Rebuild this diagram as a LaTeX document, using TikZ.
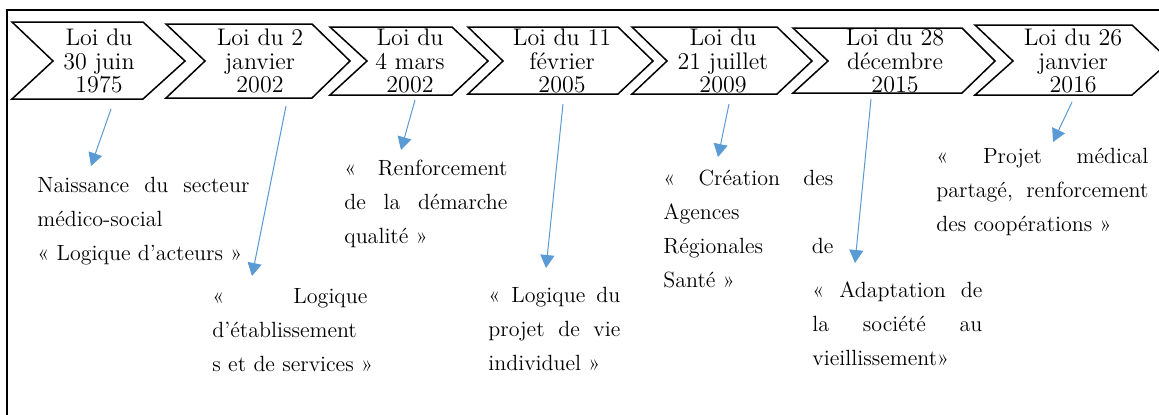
\documentclass[tikz,border=0pt]{standalone}
\usetikzlibrary{arrows.meta}
\definecolor{arrblue}{HTML}{5B9BD5}
\newcommand{\jl}[2]{\leavevmode\hbox to #1{#2}}
\begin{document}
\begin{tikzpicture}[x=0.5pt,y=-0.5pt,
  chev/.style={draw, line width=0.75pt, line join=miter},
  head/.style={align=center, font=\fontsize{12}{11.75}\selectfont, inner sep=0pt},
  body/.style={anchor=base west, inner sep=0pt, align=left, text width=130pt, font=\fontsize{11}{17}\selectfont},
  arr/.style={draw=arrblue, line width=0.5pt, -{Triangle[length=6.5pt,width=7pt]}}]
\clip (0,0) rectangle (1159,414);
\fill[white] (0,0) rectangle (1159,414);
\draw[line width=1pt] (7,430) -- (7,10) -- (1175,10);
% chevrons
\draw[chev] (12,22) -- (143,22) -- (185,61) -- (143,99) -- (12,99) -- (53,61) -- cycle;
\draw[chev] (166,24) -- (312,24) -- (350,61) -- (312,98) -- (166,98) -- (205,61) -- cycle;
\draw[chev] (330,27) -- (452,27) -- (488,61) -- (452,95) -- (330,95) -- (367,61) -- cycle;
\draw[chev] (468,27) -- (618,27) -- (653,61) -- (618,94) -- (468,94) -- (503,61) -- cycle;
\draw[chev] (632,27) -- (777,27) -- (812,61) -- (777,94) -- (632,94) -- (667,61) -- cycle;
\draw[chev] (793,28) -- (962,28) -- (995,61) -- (962,93) -- (793,93) -- (828,61) -- cycle;
\draw[chev] (975,25) -- (1132,25) -- (1170,61) -- (1132,95) -- (975,95) -- (1013,61) -- cycle;
% headings
\node[head] (h1) at (99,61) {Loi du\\30 juin\\1975};
\node[head] (h2) at (260,61) {Loi du 2\\janvier\\2002};
\node[head] (h3) at (410,61) {Loi du\\4 mars\\2002};
\node[head] (h4) at (562,61) {Loi du 11\\février\\2005};
\node[head] (h5) at (723,61) {Loi du\\21 juillet\\2009};
\node[head] (h6) at (895,61) {Loi du 28\\décembre\\2015};
\node[head] (h7) at (1073,61) {Loi du 26\\janvier\\2016};
% texts
\node[body] (t1) at (37,192) {\jl{106pt}{Naissance\hfill du\hfill secteur}\\médico-social\\« Logique d’acteurs »};
\node[body] (t2) at (212,303) {\jl{77.5pt}{«\hfill Logique}\\d’établissement\\s et de services »};
\node[body] (t3) at (344,175) {\jl{81.5pt}{«\hfill Renforcement}\\\jl{81.5pt}{de\hfill la\hfill démarche}\\qualité »};
\node[body] (t4) at (488,302) {\jl{66pt}{«\hfill Logique\hfill du}\\\jl{66pt}{projet\hfill de\hfill vie}\\individuel »};
\node[body] (t5) at (663,185) {\jl{85pt}{«\hfill Création\hfill des}\\Agences\\\jl{85pt}{Régionales\hfill de}\\Santé »};
\node[body] (t6) at (812,297) {\jl{85pt}{«\hfill Adaptation\hfill de}\\\jl{85pt}{la\hfill société\hfill au}\\vieillissement»};
\node[body] (t7) at (936,163) {\jl{106pt}{«\hfill Projet\hfill médical}\\\jl{106pt}{partagé,\hfill renforcement}\\des coopérations »};
% arrows
\coordinate (a1s) at (111,109); \coordinate (a1e) at (91,166);
\coordinate (a2s) at (286,106); \coordinate (a2e) at (252,276);
\coordinate (a3s) at (415,100); \coordinate (a3e) at (401,150);
\coordinate (a4s) at (563,104); \coordinate (a4e) at (546,268);
\coordinate (a5s) at (729,104); \coordinate (a5e) at (718,157);
\coordinate (a6s) at (871,99);  \coordinate (a6e) at (855,263);
\coordinate (a7s) at (1072,102); \coordinate (a7e) at (1053,142);
\foreach \i in {1,...,7} {\draw[arr] (a\i s) -- (a\i e);}
\end{tikzpicture}
\end{document}
